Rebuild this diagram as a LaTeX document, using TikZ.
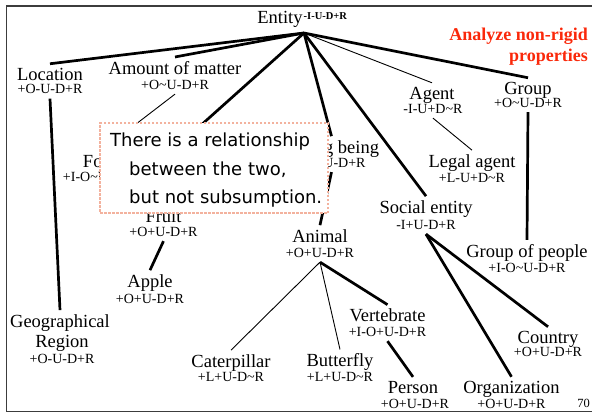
\documentclass[tikz,border=0pt]{standalone}
\usepackage{fontspec}
\setmainfont{Liberation Serif}
\newfontfamily\notefont{DejaVu Sans}
\definecolor{framegray}{RGB}{60,60,60}
\definecolor{alertred}{RGB}{250,40,10}
\definecolor{notepink}{RGB}{243,178,158}
\begin{document}
\begin{tikzpicture}[x=1pt,y=-1pt,
  term/.style={font=\fontsize{18.5}{20}\selectfont, inner sep=0pt, outer sep=4pt, anchor=base},
  codelabel/.style={font=\fontsize{14}{15}\selectfont, inner sep=0pt, outer sep=5pt, anchor=base},
  heavy/.style={line width=2.7pt},
  light/.style={line width=0.9pt},
  notetext/.style={font=\notefont\fontsize{18}{20}\selectfont, inner sep=0pt, anchor=base west},
  alert/.style={font=\bfseries\fontsize{18}{20}\selectfont, text=alertred, inner sep=0pt, anchor=base east}]
\useasboundingbox (0,0) rectangle (592,413);

% slide frame
\draw[framegray, line width=1.4pt] (592,6) -- (6.5,6) -- (6.5,411.5) -- (592,411.5);

% top concept
\node[term] (entity) at (280,23.5) {Entity};
\node[font=\bfseries\fontsize{10.5}{11}\selectfont, inner sep=0pt, anchor=base west] (entsup) at (303.5,19) {-I-U-D+R};
\coordinate (hub) at (304,33);

% concepts
\node[term] (loc) at (50,80) {Location};
\node[codelabel] (loccode) at (50,93.5) {+O-U-D+R};
\node[term] (amount) at (175,74) {Amount of matter};
\node[codelabel] (amountcode) at (175,89) {+O\char`\~U-D+R};
\node[term] (agent) at (432,99) {Agent};
\node[codelabel] (agentcode) at (433,113) {-I-U+D\char`\~R};
\node[term] (group) at (528,94) {Group};
\node[codelabel] (groupcode) at (528,107) {+O\char`\~U-D+R};
\node[term] (food) at (102,167) {Food};
\node[codelabel] (foodcode) at (101.5,181) {+I-O\char`\~U-D+R};
\node[term] (living) at (331.5,153) {Living being};
\node[codelabel] (livingcode) at (331.5,167) {+O+U-D+R};
\node[term] (fruit) at (163.5,222.5) {Fruit};
\node[codelabel] (fruitcode) at (163.5,236) {+O+U-D+R};
\node[term] (apple) at (150,287) {Apple};
\node[codelabel] (applecode) at (150,303) {+O+U-D+R};
\node[term] (legal) at (472,167) {Legal agent};
\node[codelabel] (legalcode) at (472,182) {+L-U+D\char`\~R};
\node[term] (social) at (426,213) {Social entity};
\node[codelabel] (socialcode) at (426,229) {-I+U-D+R};
\node[term] (people) at (527,257) {Group of people};
\node[codelabel] (peoplecode) at (527,272) {+I-O\char`\~U-D+R};
\node[term] (animal) at (320,242) {Animal};
\node[codelabel] (animalcode) at (320,257) {+O+U-D+R};
\node[term] (geo) at (60,327) {Geographical};
\node[term] (geob) at (62,347) {Region};
\node[codelabel] (geocode) at (62,363) {+O-U-D+R};
\node[term] (cater) at (231,367) {Caterpillar};
\node[codelabel] (catercode) at (231,381) {+L+U-D\char`\~R};
\node[term] (butter) at (340,366.5) {Butterfly};
\node[codelabel] (buttercode) at (340,381) {+L+U-D\char`\~R};
\node[term] (vert) at (387.5,321.5) {Vertebrate};
\node[codelabel] (vertcode) at (387.5,336) {+I-O+U-D+R};
\node[term] (person) at (413,393) {Person};
\node[codelabel] (personcode) at (415,408) {+O+U-D+R};
\node[term] (org) at (511.5,393) {Organization};
\node[codelabel] (orgcode) at (511.5,408) {+O+U-D+R};
\node[term] (country) at (548,343) {Country};
\node[codelabel] (countrycode) at (548,356) {+O+U-D+R};
\coordinate (foodlink) at (190,135);

% links from the top concept
\draw[heavy] (hub) -- (loc.north);
\draw[heavy] (hub) -- (amount.north);
\draw[heavy] (hub) -- (foodlink);
\draw[heavy] (hub) -- (living.north);
\draw[heavy] (hub) -- (social.north);
\draw[light] (hub) -- (agent.north);
\draw[heavy] (hub) -- (group.north);

% lower links
\draw[heavy] (loccode.south) -- (geo.north);
\draw[light] (amountcode.south) -- (food.north);
\draw[heavy] (fruitcode.south) -- (apple.north);
\draw[heavy] (livingcode.south) -- (animal.north);
\draw[light] (agentcode.south) -- (legal.north);
\draw[heavy] (groupcode.south) -- (people.north);
\draw[heavy] (socialcode.south) -- (org.north);
\draw[heavy] (socialcode.south) -- (country.north);
\draw[light] (animalcode.south) -- (cater.north);
\draw[light] (animalcode.south) -- (butter.north);
\draw[heavy] (animalcode.south) -- (vert.north);
\draw[heavy] (vertcode.south) -- (person.north);

% callout
\node[draw=notepink, fill=white, line width=1.1pt, dash pattern=on 2.5pt off 1.5pt,
      minimum width=228pt, minimum height=90pt, inner sep=0pt] (note) at (214,168) {};
\node[notetext] (note1) at (110,146.7) {There is a relationship};
\node[notetext] (note2) at (129,175) {between the two,};
\node[notetext] (note3) at (129,203) {but not subsumption.};

% remark and page number
\node[alert] (alert1) at (588,40) {Analyze non-rigid};
\node[alert] (alert2) at (588,61.5) {properties};
\node[font=\fontsize{12.5}{13}\selectfont, inner sep=0pt, anchor=base east] (pagenum) at (590,407) {70};
\end{tikzpicture}
\end{document}
